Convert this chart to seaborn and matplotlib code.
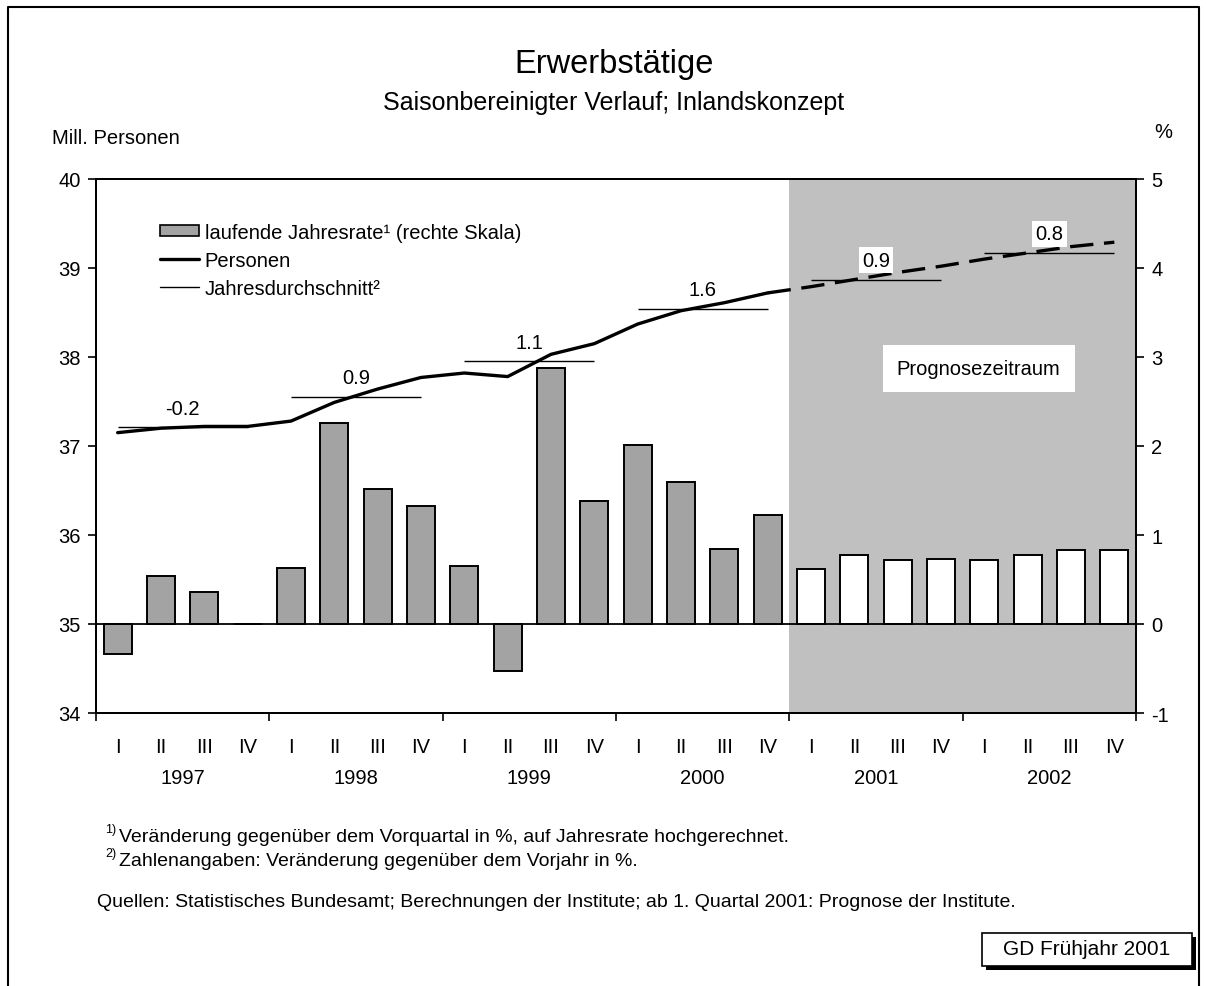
import numpy as np
import pandas as pd
import matplotlib
matplotlib.use("Agg")
import matplotlib.pyplot as plt
import seaborn as sns
from matplotlib.patches import Patch, Rectangle
from matplotlib.lines import Line2D
from matplotlib import transforms

# ---------------- data ----------------
years = ["1997", "1998", "1999", "2000", "2001", "2002"]
quarter_labels = ["I", "II", "III", "IV"]
rate = [-0.34, 0.54, 0.36, 0.00,
        0.63, 2.26, 1.52, 1.33,
        0.65, -0.53, 2.88, 1.38,
        2.01, 1.60, 0.84, 1.22,
        0.62, 0.78, 0.72, 0.73,
        0.72, 0.78, 0.83, 0.83]
persons_actual = [37.15, 37.20, 37.22, 37.22,
                  37.28, 37.49, 37.64, 37.77,
                  37.82, 37.78, 38.03, 38.15,
                  38.37, 38.52, 38.61, 38.72]
persons_forecast = [38.79, 38.87, 38.95, 39.02,
                    39.10, 39.17, 39.24, 39.29]
annual_avg = [37.21, 37.55, 37.95, 38.54, 38.87, 39.17]
annual_change = ["-0.2", "0.9", "1.1", "1.6", "0.9", "0.8"]
n_actual = 16

# ---------------- style ----------------
sns.set_style("ticks")
plt.rcParams["font.family"] = ["Liberation Sans", "DejaVu Sans"]
plt.rcParams["text.color"] = "black"
plt.rcParams["axes.labelcolor"] = "black"
plt.rcParams["xtick.color"] = "black"
plt.rcParams["ytick.color"] = "black"
plt.rcParams["axes.unicode_minus"] = False

BAR_GRAY = "#a3a3a3"
SPAN_GRAY = "#c0c0c0"
FS = 14.5
FS_NOTE = 14

fig = plt.figure(figsize=(12.06, 9.87), dpi=100)
W, H = 1206, 987
def fx(px):
    return px / W
def fy(py):
    return 1 - py / H

ax = fig.add_axes([fx(96), fy(714), fx(1136) - fx(96), fy(180) - fy(714)])
ax2 = ax.twinx()
ax.set_zorder(2)
ax2.set_zorder(1)
ax.patch.set_visible(False)
ax2.patch.set_visible(False)

n = len(rate)
phase = ["Ist"] * n_actual + ["Prognose"] * (n - n_actual)
df = pd.DataFrame({"q": np.arange(n), "rate": rate, "phase": phase})

# forecast span
ax2.axvspan(n_actual - 0.5, n - 0.5, color=SPAN_GRAY, zorder=0, lw=0)

sns.barplot(data=df, x="q", y="rate", hue="phase",
            palette={"Ist": BAR_GRAY, "Prognose": "white"},
            dodge=False, width=0.64, edgecolor="black", linewidth=1.4,
            saturation=1, legend=False, ax=ax2, zorder=2)
ax2.axhline(0, color="black", lw=1.3, zorder=3)

# persons line
xa = np.arange(n_actual)
sns.lineplot(x=xa, y=persons_actual, ax=ax, color="black", lw=2.4)
xf = np.arange(n_actual - 1, n)
sns.lineplot(x=xf, y=[persons_actual[-1]] + persons_forecast, ax=ax,
             color="black", lw=2.4)
ax.lines[-1].set_dashes([7, 3.2])

# annual averages
starts = np.arange(len(years)) * 4
ax.hlines(annual_avg, starts, starts + 3, color="black", lw=1.0)
for i, (xs, v, lab) in enumerate(zip(starts, annual_avg, annual_change)):
    kw = {}
    if i >= 4:
        kw["bbox"] = dict(facecolor="white", edgecolor="none", pad=2.5)
    ax.annotate(lab, (xs + 1.5, v), xytext=(0, 7), textcoords="offset points",
                ha="center", va="bottom", fontsize=FS, **kw)

ax.text(19.87, 37.87, "Prognosezeitraum", ha="center", va="center", fontsize=FS,
        bbox=dict(facecolor="white", edgecolor="none", boxstyle="square,pad=0.7"))

# axes limits / ticks
ax.set_xlim(-0.5, n - 0.5)
ax.set_ylim(34, 40)
ax.set_yticks(range(34, 41))
ax2.set_ylim(-1, 5)
ax2.set_yticks(range(-1, 6))
ax2.set_xlabel("")
ax2.set_ylabel("")
ax.set_xlabel("")
ax.set_ylabel("")

ax.set_xticks(np.arange(n))
ax.set_xticklabels(quarter_labels * len(years))
ax.set_xticks(np.arange(0, n + 1, 4) - 0.5, minor=True)
ax.tick_params(axis="x", which="major", length=0, pad=17, labelsize=FS)
ax.tick_params(axis="x", which="minor", length=6, width=1.2, direction="out")
ax.tick_params(axis="y", length=6, width=1.2, direction="out", labelsize=FS, pad=5)
ax2.tick_params(axis="y", length=6, width=1.2, direction="out", labelsize=FS, pad=5)

for a in (ax, ax2):
    for s in a.spines.values():
        s.set_visible(True)
        s.set_color("black")
        s.set_linewidth(1.4)

trans = transforms.blended_transform_factory(ax.transData, ax.transAxes)
for xs, y in zip(starts, years):
    ax.text(xs + 1.5, -0.12, y, transform=trans, ha="center", va="center", fontsize=FS)

# legend
handles = [Patch(facecolor=BAR_GRAY, edgecolor="black", linewidth=1.2),
           Line2D([], [], color="black", lw=2.4),
           Line2D([], [], color="black", lw=1.0)]
labels = ["laufende Jahresrate¹ (rechte Skala)", "Personen", "Jahresdurchschnitt²"]
ax.legend(handles, labels, loc="upper left", bbox_to_anchor=(0.062, 0.918),
          frameon=False, fontsize=FS, handlelength=1.9, handleheight=0.5,
          handletextpad=0.3, labelspacing=0.45, borderaxespad=0, borderpad=0)

# titles
fig.text(fx(614), fy(65), "Erwerbstätige", ha="center", va="center", fontsize=23.5)
fig.text(fx(614), fy(103), "Saisonbereinigter Verlauf; Inlandskonzept",
         ha="center", va="center", fontsize=18)
fig.text(fx(52), fy(139), "Mill. Personen", ha="left", va="center", fontsize=FS)
fig.text(fx(1163), fy(133), "%", ha="center", va="center", fontsize=FS)

# footnotes
fig.text(fx(105), fy(830), "1)", ha="left", va="center", fontsize=9)
fig.text(fx(119), fy(837), "Veränderung gegenüber dem Vorquartal in %, auf Jahresrate hochgerechnet.",
         ha="left", va="center", fontsize=FS_NOTE)
fig.text(fx(105), fy(854), "2)", ha="left", va="center", fontsize=9)
fig.text(fx(119), fy(861), "Zahlenangaben: Veränderung gegenüber dem Vorjahr in %.",
         ha="left", va="center", fontsize=FS_NOTE)
fig.text(fx(97), fy(903), "Quellen: Statistisches Bundesamt; Berechnungen der Institute; ab 1. Quartal 2001: Prognose der Institute.",
         ha="left", va="center", fontsize=FS_NOTE)

# GD box with shadow
fig.patches.append(Rectangle((fx(986), fy(971)), fx(210), fy(0) - fy(33),
                             transform=fig.transFigure, facecolor="black",
                             edgecolor="none", zorder=1))
fig.patches.append(Rectangle((fx(982), fy(967)), fx(210), fy(0) - fy(33),
                             transform=fig.transFigure, facecolor="white",
                             edgecolor="black", lw=1.2, zorder=2))
fig.text(fx(1087), fy(950), "GD Frühjahr 2001", ha="center", va="center",
         fontsize=15, zorder=3)

# outer frame (top, left, right)
fig.lines.append(Line2D([fx(8), fx(8), fx(1199), fx(1199)],
                        [fy(990), fy(8), fy(8), fy(990)],
                        transform=fig.transFigure, color="black", lw=1.5))

fig.savefig("out.png", dpi=100)
